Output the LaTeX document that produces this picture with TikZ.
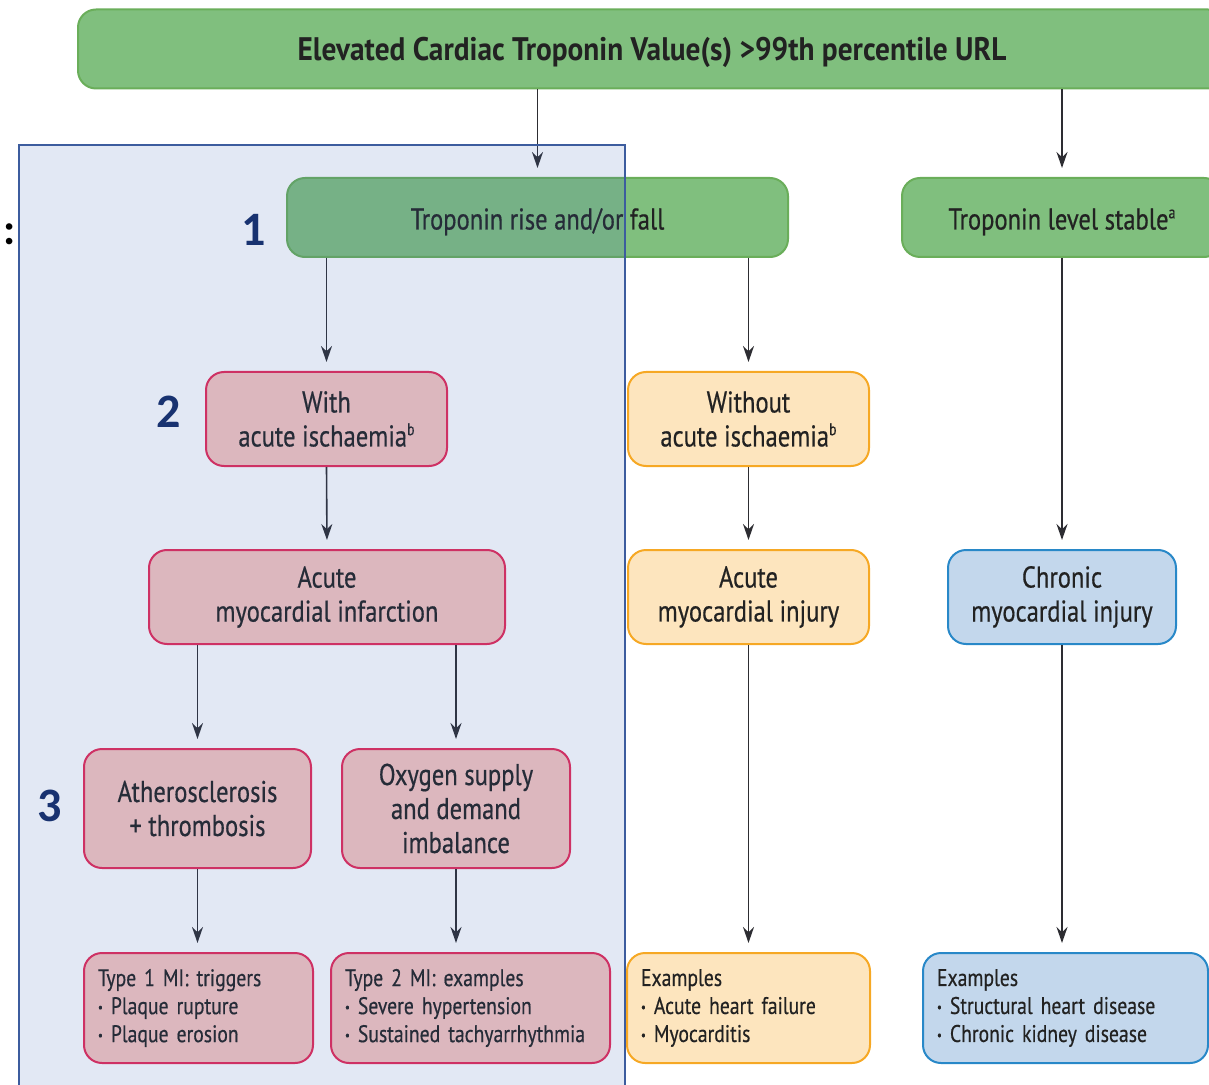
\documentclass[tikz,border=0pt]{standalone}
\usepackage{fontspec}
\setmainfont{PT Sans}[FakeStretch=0.82, FakeBold=0.5]
\newfontfamily\topfont{PT Sans}[FakeStretch=0.9]
\newfontfamily\numfont{Carlito}
\usetikzlibrary{arrows.meta}
\definecolor{txtgray}{RGB}{34,34,34}
\definecolor{lnk}{RGB}{45,45,50}
\definecolor{grnfill}{RGB}{128,191,126}
\definecolor{grnline}{RGB}{106,174,90}
\definecolor{pnkfill}{RGB}{248,198,192}
\definecolor{pnkline}{RGB}{232,40,86}
\definecolor{ambfill}{RGB}{253,229,190}
\definecolor{ambline}{RGB}{246,168,36}
\definecolor{bluefill}{RGB}{195,215,236}
\definecolor{blueline}{RGB}{40,136,200}
\definecolor{shade}{RGB}{62,102,182}
\definecolor{shadeline}{RGB}{60,92,158}
\definecolor{navy}{RGB}{24,50,112}
\newcommand{\itm}{\raisebox{0.2ex}{\scalebox{0.55}{\textbullet}}\ }
\newcommand{\note}[1]{\raisebox{0.75ex}{\fontsize{8.5}{8.5}\selectfont #1}}

\begin{document}
\begin{tikzpicture}[x=0.5pt,y=-0.5pt]
\tikzstyle{every node}+=[inner sep=0pt, text=txtgray, align=center, font=\fontsize{15}{17}\selectfont]
\tikzstyle{panel}=[draw, line width=1pt, rounded corners=9pt]
\tikzstyle{greenbox}=[panel, draw=grnline, fill=grnfill, minimum height=39.5pt, text height=12pt, text depth=0pt]
\tikzstyle{pinkbox}=[panel, draw=pnkline, fill=pnkfill]
\tikzstyle{amberbox}=[panel, draw=ambline, fill=ambfill]
\tikzstyle{bluebox}=[panel, draw=blueline, fill=bluefill]
\tikzstyle{listbox}=[minimum height=55pt, inner xsep=7pt, align=left, font=\fontsize{12}{14}\selectfont]
\tikzstyle{flowarrow}=[draw=lnk, line width=0.8pt, -{Stealth[length=8pt,width=5.5pt]}, shorten >=4.5pt]
\tikzstyle{stepnum}=[text=navy, font=\numfont\bfseries\fontsize{24}{24}\selectfont]
\useasboundingbox (0,0) rectangle (1209,1085);
\clip (0,0) rectangle (1209,1085);
\node [greenbox, minimum width=574pt, font=\topfont\bfseries\fontsize{16.3}{18}\selectfont] (top) at (652,49) {Elevated Cardiac Troponin Value(s) >99th percentile URL};
\node [greenbox, minimum width=250.5pt] (rise) at (537.5,217.5) {Troponin rise and/or fall};
\node [greenbox, minimum width=160pt] (stable) at (1062,217.5) {Troponin level stable\note{a}};
\node [pinkbox, minimum width=120.5pt, minimum height=47pt] (with) at (326.5,419) {With\\acute ischaemia\note{b}};
\node [amberbox, minimum width=120.5pt, minimum height=47pt] (without) at (748.5,419) {Without\\acute ischaemia\note{b}};
\node [pinkbox, minimum width=178pt, minimum height=47pt] (acutemi) at (327,597) {Acute\\myocardial infarction};
\node [amberbox, minimum width=120.5pt, minimum height=47pt] (injury) at (748.5,597) {Acute\\myocardial injury};
\node [bluebox, minimum width=114pt, minimum height=47pt] (chronic) at (1062,597) {Chronic\\myocardial injury};
\node [pinkbox, minimum width=113.5pt, minimum height=59.5pt] (athero) at (197.5,808.5) {Atherosclerosis\\+ thrombosis};
\node [pinkbox, minimum width=114pt, minimum height=59.5pt] (oxygen) at (456,808.5) {Oxygen supply\\and demand\\imbalance};
\node [pinkbox, listbox, text width=100.5pt] (type1) at (198.5,1008) {Type 1 MI: triggers\\\itm Plaque rupture\\\itm Plaque erosion};
\node [pinkbox, listbox, text width=125.5pt] (type2) at (470.5,1008) {Type 2 MI: examples\\\itm Severe hypertension\\\itm Sustained tachyarrhythmia};
\node [amberbox, listbox, text width=107.5pt] (ex1) at (748.5,1008) {Examples\\\itm Acute heart failure\\\itm Myocarditis};
\node [bluebox, listbox, text width=128.5pt] (ex2) at (1065.5,1008) {Examples\\\itm Structural heart disease\\\itm Chronic kidney disease};
\draw [flowarrow] (top.south -| rise.north) -- (rise.north);
\draw [flowarrow] (top.south -| stable.north) -- (stable.north);
\draw [flowarrow] (rise.south -| with.north) -- (with.north);
\draw [flowarrow] (rise.south -| without.north) -- (without.north);
\draw [flowarrow] (with.south) -- (acutemi.north);
\draw [flowarrow] (without.south) -- (injury.north);
\draw [flowarrow] (stable.south) -- (chronic.north);
\draw [flowarrow] (acutemi.south -| athero.north) -- (athero.north);
\draw [flowarrow] (acutemi.south -| oxygen.north) -- (oxygen.north);
\draw [flowarrow] (athero.south) -- (type1.north -| athero.south);
\draw [flowarrow] (oxygen.south) -- (type2.north -| oxygen.south);
\draw [flowarrow] (injury.south) -- (ex1.north);
\draw [flowarrow] (chronic.south) -- (ex2.north -| chronic.south);
\draw [draw=shadeline, line width=1pt, fill=shade, fill opacity=0.15] (19,145) rectangle (625,1100);
\node [stepnum] (num1) at (254,230) {1};
\node [stepnum] (num2) at (169,412) {2};
\node [stepnum] (num3) at (50,806) {3};
\node [text=black, font=\numfont\bfseries\fontsize{22}{22}\selectfont] (colon) at (10,234) {:};
\end{tikzpicture}
\end{document}
